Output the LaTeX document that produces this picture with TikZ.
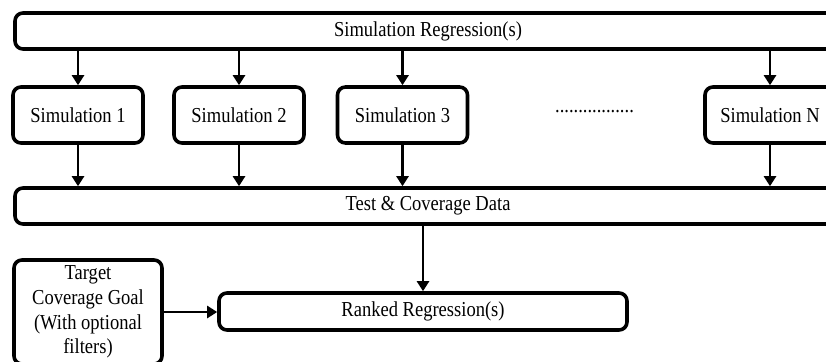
\documentclass[tikz,border=0pt]{standalone}
\usepackage{fontspec}
\setmainfont[FakeStretch=0.87]{Liberation Serif}
\usetikzlibrary{arrows.meta}
\begin{document}
\begin{tikzpicture}[x=1pt,y=-1pt,
  box/.style={draw=black, line width=3.6pt, rounded corners=8pt, fill=white,
    inner sep=0pt, align=center, font=\fontsize{21.3}{24.6}\selectfont},
  flow/.style={line width=2.4pt, -{Triangle[length=10pt,width=12pt]}}]
  \useasboundingbox (0,0) rectangle (826,361);
  \clip (0,0) rectangle (826,361);

  % regression bar and the simulations it launches
  \node[box, minimum width=826pt, minimum height=36pt] (reg) at (428,31) {Simulation Regression(s)};
  \node[box, minimum width=130pt, minimum height=56pt] (s1) at (78,115) {Simulation 1};
  \node[box, minimum width=130pt, minimum height=56pt] (s2) at (239,115) {Simulation 2};
  \node[box, minimum width=130pt, minimum height=56pt] (s3) at (402.5,115) {Simulation 3};
  \node[box, minimum width=130pt, minimum height=56pt] (sn) at (770,115) {Simulation N};
  \node[font=\fontsize{21.3}{24}\selectfont, inner sep=0pt] (dots) at (594.5,112) {.................};

  % collected results
  \node[box, minimum width=826pt, minimum height=36pt] (data) at (428,206) {Test \& Coverage Data};

  % ranking step
  \node[box, minimum width=408pt, minimum height=37pt] (rank) at (423,311.5) {Ranked Regression(s)};
  \node[box, minimum width=148pt, minimum height=104pt] (goal) at (88,312)
    {Target\\Coverage Goal\\(With optional\\filters)};

  \foreach \s in {s1,s2,s3,sn} {
    \draw[flow] (reg.south -| \s) -- (\s.north);
    \draw[flow] (\s.south) -- (data.north -| \s);
  }
  \draw[flow] (data.south -| rank) -- (rank.north);
  \draw[flow] (goal.east) -- (goal.east -| rank.west);
\end{tikzpicture}
\end{document}
